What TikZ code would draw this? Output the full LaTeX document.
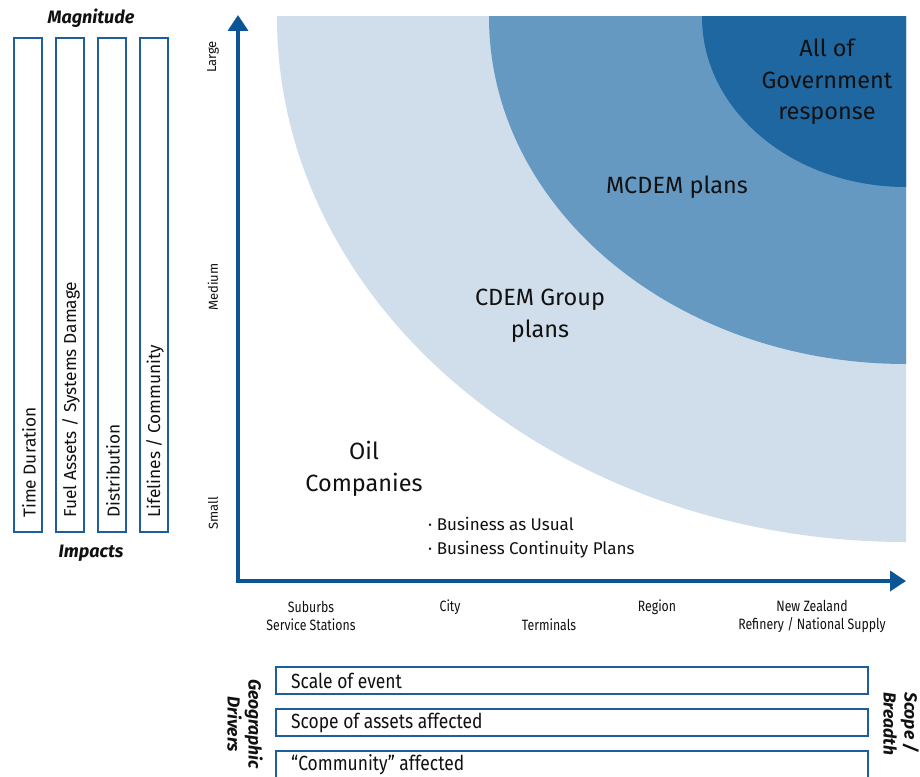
\documentclass[tikz,border=0pt]{standalone}
\usepackage{fontspec}
\setmainfont{Fira Sans}
\newfontfamily\condfont[FakeStretch=0.82]{Fira Sans}
\newfontfamily\drvfont[FakeStretch=0.85]{Fira Sans}
\usetikzlibrary{arrows.meta}
\definecolor{lightblue}{HTML}{CFDEEA}
\definecolor{midblue}{HTML}{6699C1}
\definecolor{darkblue}{HTML}{1F67A1}
\definecolor{axisblue}{HTML}{0B5597}
\definecolor{boxblue}{HTML}{1E5E9F}
\definecolor{txt}{HTML}{111111}
\tikzset{
  magbox/.style={draw=boxblue, line width=2pt, fill=white},
  drvbox/.style={draw=boxblue, line width=2pt, fill=white},
  axisline/.style={draw=axisblue, line width=3.5pt, -{Triangle[width=20pt,length=16pt]}},
  magtext/.style={rotate=90, anchor=west, font=\fontsize{17.3}{20}\selectfont, text=txt, inner sep=0pt},
  ticktext/.style={rotate=90, font=\fontsize{13}{15}\selectfont, text=txt, inner sep=0pt},
  xtext/.style={font=\condfont\fontsize{15}{18}\selectfont, text=txt, align=center, inner sep=0pt},
  regiontext/.style={font=\fontsize{23.5}{31.5}\selectfont, text=txt, align=center},
  bigtitle/.style={font=\bfseries\itshape\fontsize{18}{21}\selectfont, text=txt, inner sep=0pt},
  sidetitle/.style={font=\bfseries\itshape\fontsize{17.5}{21}\selectfont, text=txt, inner sep=0pt, rotate=-90},
  drvtext/.style={font=\drvfont\fontsize{20.5}{24}\selectfont, text=txt, anchor=west, inner sep=0pt},
}
\begin{document}
\begin{tikzpicture}[x=1pt, y=-1pt]
\useasboundingbox (0,0) rectangle (920,776);
\clip (0,0) rectangle (920,776);
\fill[white] (0,0) rectangle (920,776);

% response zones
\begin{scope}
  \clip (238,17) rectangle (906,581);
  \fill[lightblue] (906,17) ellipse [x radius=629pt, y radius=525pt];
  \fill[midblue] (906,17) ellipse [x radius=417pt, y radius=347pt];
  \fill[darkblue] (906,17) ellipse [x radius=204pt, y radius=170pt];
\end{scope}

% axes
\coordinate (origin) at (238,581);
\coordinate (ytip) at (238,15);
\coordinate (xtip) at (906,581);
\draw[axisline] ([yshift=1.75pt]origin) -- (ytip);
\draw[axisline] ([xshift=-1.75pt]origin) -- (xtip);

% magnitude boxes
\node[bigtitle] (magnitude) at (91,18) {Magnitude};
\node[bigtitle] (impacts) at (91,553) {Impacts};
\draw[magbox] (14,38) rectangle (42,532);
\draw[magbox] (56,38) rectangle (84,532);
\draw[magbox] (98,38) rectangle (126,532);
\draw[magbox] (140,38) rectangle (168,532);
\node[magtext] (m1) at (29,518) {Time Duration};
\node[magtext] (m2) at (71,518) {Fuel Assets / Systems Damage};
\node[magtext] (m3) at (113,518) {Distribution};
\node[magtext] (m4) at (155,518) {Lifelines / Community};

% y labels
\node[ticktext] (large) at (213,57) {Large};
\node[ticktext] (medium) at (213,287) {Medium};
\node[ticktext] (small) at (213,513) {Small};

% x labels
\node[xtext] (suburbs) at (311,616) {Suburbs\\Service Stations};
\node[xtext] (city) at (450,607) {City};
\node[xtext] (terminals) at (549,625) {Terminals};
\node[xtext] (region) at (657,607) {Region};
\node[xtext] (nz) at (812,616) {New Zealand\\Refinery / National Supply};

% region labels
\node[regiontext] (aog) at (827,82) {All of\\Government\\response};
\node[regiontext] (mcdem) at (677,187) {MCDEM plans};
\node[regiontext] (cdem) at (540,316) {CDEM Group\\plans};
\node[regiontext] (oil) at (364,469) {Oil\\Companies};
\node[font=\fontsize{17}{24}\selectfont, text=txt, align=left, anchor=west, inner sep=0pt] (bau) at (428,538)
  {\textperiodcentered\ Business as Usual\\\textperiodcentered\ Business Continuity Plans};

% drivers
\draw[drvbox] (276,667) rectangle (868,694);
\draw[drvbox] (276,709) rectangle (868,736);
\draw[drvbox] (276,751) rectangle (868,795);
\node[drvtext] (d1) at (291,681) {Scale of event};
\node[drvtext] (d2) at (291,723) {Scope of assets affected};
\node[drvtext] (d3) at (291,765) {“Community” affected};
\node[sidetitle, align=center, anchor=north] (geo) at (263,724) {Geographic\\Drivers};
\node[sidetitle, align=left, anchor=north west] (scope) at (919,692) {Scope /\\Breadth};
\end{tikzpicture}
\end{document}
